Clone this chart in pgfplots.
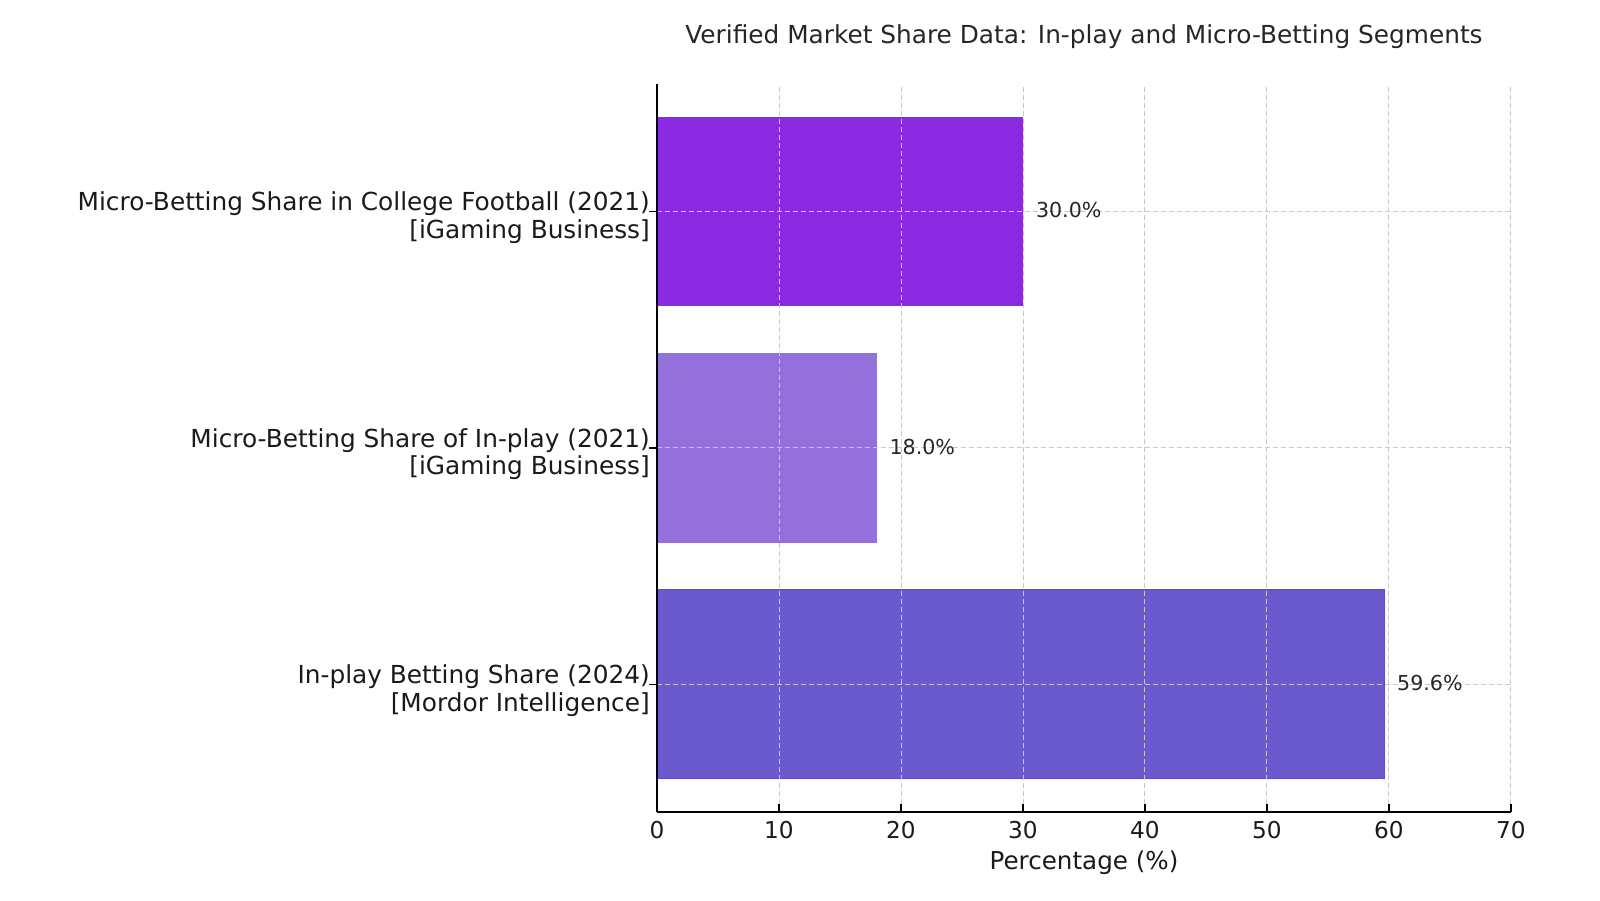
\documentclass[border=0pt]{standalone}
\usepackage{fontspec}
\setmainfont{DejaVu Sans}
\usepackage{pgfplots}
\pgfplotsset{compat=1.18}
\definecolor{barA}{HTML}{8A2BE2}
\definecolor{barB}{HTML}{9370DB}
\definecolor{barC}{HTML}{6A5ACD}
\definecolor{barCedge}{HTML}{5B48D6}
\definecolor{txt}{HTML}{1A1A1A}
\definecolor{txtb}{HTML}{262626}
\definecolor{gridc}{HTML}{C8C8C8}
\begin{document}
\begin{tikzpicture}
\useasboundingbox (0,0) rectangle (800pt,450pt);
\begin{axis}[
  at={(328.5pt,44pt)}, anchor=south west,
  width=427pt, height=364pt, scale only axis,
  xmin=0, xmax=70, ymin=-0.54, ymax=2.54,
  xtick={0,10,...,70},
  ytick={0,1,2},
  yticklabels={{In-play Betting Share (2024)\\\relax [Mordor Intelligence]},
               {Micro-Betting Share of In-play (2021)\\\relax [iGaming Business]},
               {Micro-Betting Share in College Football (2021)\\\relax [iGaming Business]}},
  axis x line*=bottom, axis y line*=left,
  axis line style={line width=0.7pt, black, -},
  tick align=inside,
  major tick length=4pt,
  tick style={black, line width=0.6pt},
  xmajorgrids, ymajorgrids,
  major grid style={gridc, dashed, dash pattern=on 2.6pt off 1.4pt, line width=0.5pt},
  axis on top,
  /pgf/number format/assume math mode=true,
  xticklabel style={font=\fontsize{11.6}{13}\selectfont, text=txt, anchor=base, yshift=-13.3pt, inner sep=0pt},
  yticklabel style={font=\fontsize{12.4}{13.8}\selectfont, text=txt, align=right, anchor=east, inner sep=0pt, xshift=0.6pt, yshift=-3pt},
  xlabel={Percentage (\%)},
  xlabel style={font=\fontsize{12.3}{14}\selectfont, text=txt, at={(0.5,0)}, anchor=base, yshift=-28.6pt},
  title={Verified Market Share Data: In-play and Micro-Betting Segments},
  title style={font=\fontsize{12.4}{14}\selectfont, text=txtb, at={(0.5,1)}, anchor=base, yshift=14.4pt},
  xbar, bar width=0.8, bar shift=0pt,
  nodes near coords={\pgfmathprintnumber[fixed,fixed zerofill,precision=1]{\pgfplotspointmeta}\%},
  nodes near coords style={font=\fontsize{10.3}{12}\selectfont, text=txtb, anchor=west, inner sep=0pt, xshift=6.3pt, yshift=0.6pt},
  point meta=explicit,
]
\addplot[fill=barC, draw=barCedge, line width=0.5pt] coordinates {(59.6,0) [59.6]};
\addplot[fill=barB, draw=none] coordinates {(18.0,1) [18.0]};
\addplot[fill=barA, draw=none] coordinates {(30.0,2) [30.0]};
\end{axis}
\end{tikzpicture}
\end{document}
